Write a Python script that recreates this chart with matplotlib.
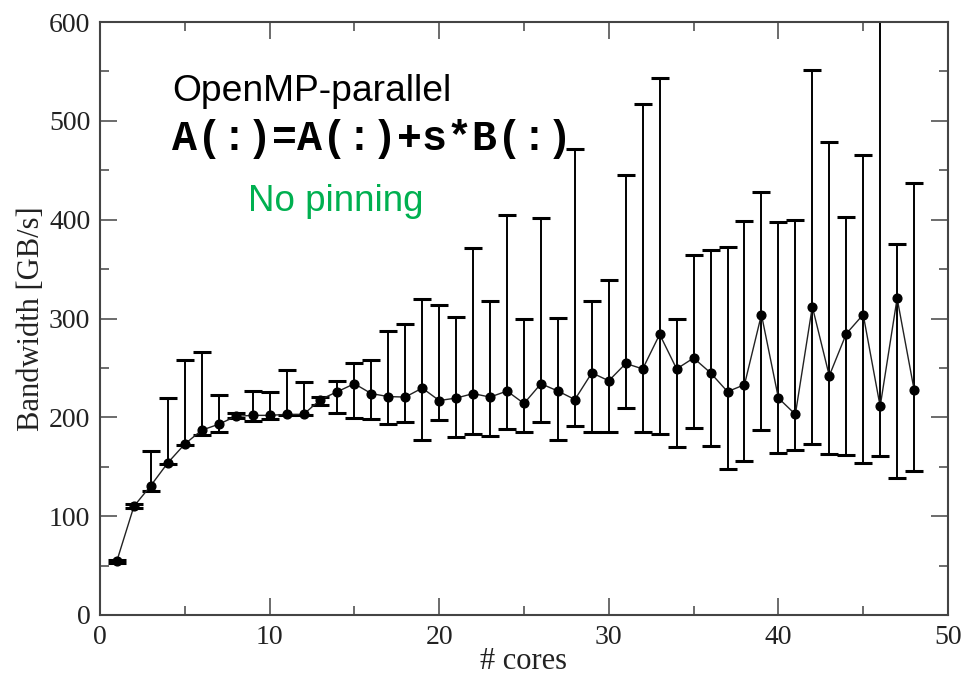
import matplotlib
matplotlib.use("Agg")
import matplotlib.pyplot as plt
import numpy as np
from matplotlib.ticker import MultipleLocator

cores = list(range(1, 49))
bandwidth = [55, 110, 131, 154, 173, 187, 193, 201, 202, 202, 203, 203, 218, 226, 234, 224,
             221, 220.5, 229.6, 217, 219.5, 224, 220.5, 226.6, 214, 234, 226.6, 218, 245, 237,
             254.5, 249, 284, 249, 260, 245, 226, 233, 304, 219.5, 203, 312, 242, 284.5, 304,
             211, 320.5, 228]
upper = [56, 112, 166, 220, 258, 266, 223, 204, 227, 226, 248, 236, 220.5, 237, 255, 258,
         287, 294, 320, 314, 302, 371, 318, 405, 300, 402, 301, 471, 318, 339,
         445, 517, 543, 300, 364, 369, 372, 399, 428, 398, 400, 551, 479, 403, 465,
         650, 375, 437]
lower = [53, 108, 125, 153, 172, 182.5, 185, 199, 196, 198, 202, 202, 212, 204, 199, 198,
         193, 195, 177.5, 197, 180, 183.5, 181, 188.6, 185, 195, 177.5, 191, 185, 185,
         209, 185, 183.5, 170, 189.6, 171, 147.5, 156, 187, 164, 167, 173, 163, 161.6, 154,
         160.6, 139, 146]

x_ticks = [0, 10, 20, 30, 40, 50]
y_ticks = [0, 100, 200, 300, 400, 500, 600]

b = np.array(bandwidth)
yerr = np.vstack([b - np.array(lower), np.array(upper) - b])

fig = plt.figure(figsize=(9.65, 6.76), dpi=100)
ax = fig.add_axes([100/965, 61/676, 848/965, 593/676])

ax.errorbar(cores, bandwidth, yerr=yerr, fmt='none', ecolor='black', elinewidth=1.4,
            capsize=6.5, capthick=2.2, zorder=2)
ax.plot(cores, bandwidth, color='#222222', lw=1.0, marker='o', ms=6.3,
        mfc='black', mec='black', zorder=3)

ax.set_xlim(0, 50)
ax.set_ylim(0, 600)
ax.set_xticks(x_ticks)
ax.set_yticks(y_ticks)
ax.xaxis.set_minor_locator(MultipleLocator(5))
ax.yaxis.set_minor_locator(MultipleLocator(50))
ax.tick_params(which='both', direction='in', top=True, right=True, color='#444444', width=1.1)
ax.tick_params(which='major', length=12, pad=7)
ax.tick_params(which='minor', length=6.5)
for lab in ax.get_xticklabels() + ax.get_yticklabels():
    lab.set_family('Liberation Serif')
    lab.set_fontsize(20)
    lab.set_color('#222222')
for s in ax.spines.values():
    s.set_color('#444444')
    s.set_linewidth(1.5)

ax.set_xlabel('# cores', family='Liberation Serif', fontsize=22, color='#222222', labelpad=-2)
ax.set_ylabel('Bandwidth [GB/s]', family='Liberation Serif', fontsize=22, color='#222222', labelpad=2)

ax.text(0.085, 0.866, 'OpenMP-parallel', transform=ax.transAxes, family='Liberation Sans',
        fontsize=26.8, color='black', va='baseline', ha='left')
ax.text(0.085, 0.784, 'A(:)=A(:)+s*B(:)', transform=ax.transAxes, family='Liberation Mono',
        fontweight='bold', fontsize=30, color='black', va='baseline', ha='left')
ax.text(0.1745, 0.682, 'No pinning', transform=ax.transAxes, family='Liberation Sans',
        fontsize=26.5, color='#00B050', va='baseline', ha='left')

fig.savefig('out.png', dpi=100)
